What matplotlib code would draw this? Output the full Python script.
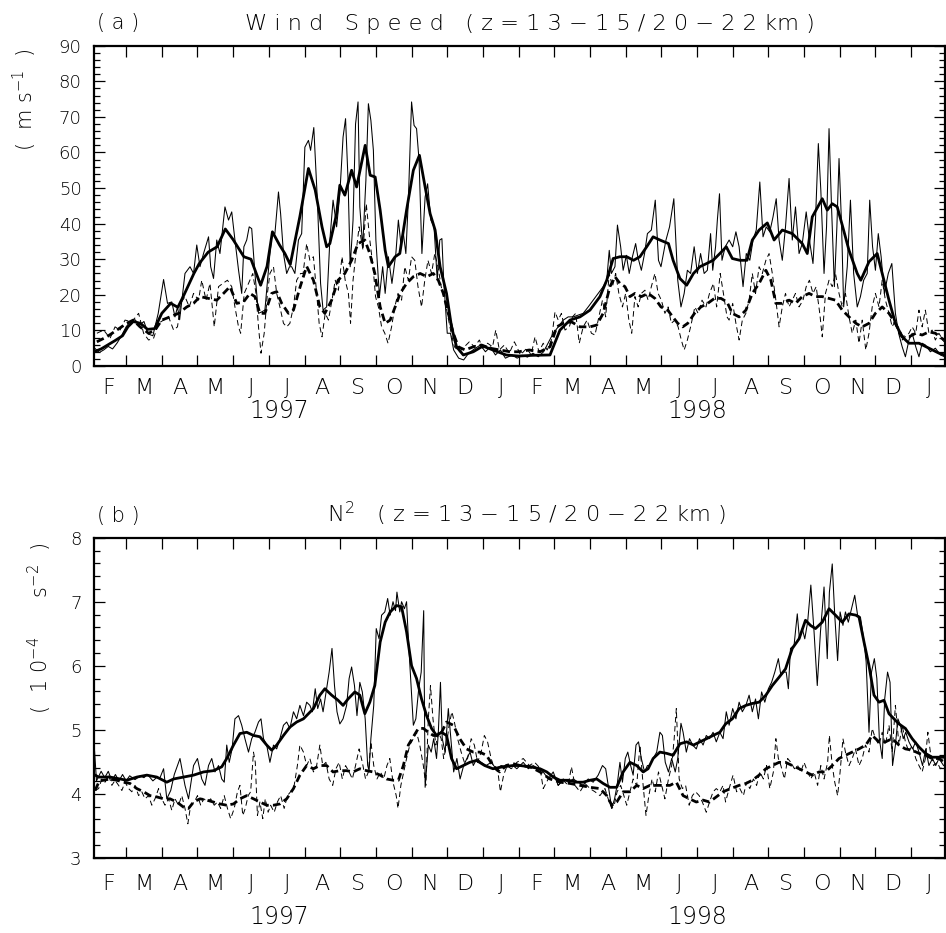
import matplotlib
matplotlib.use("Agg")
import matplotlib.pyplot as plt
from matplotlib.ticker import MultipleLocator, FixedLocator, NullFormatter
from matplotlib.transforms import blended_transform_factory

plt.rcParams['font.family'] = ['DejaVu Sans']
plt.rcParams['font.weight'] = 'light'
plt.rcParams['mathtext.fontset'] = 'dejavusans'
plt.rcParams['lines.scale_dashes'] = False

# Time axis in months since 1 Jan 1997 (2 = 1 Mar 1997, 24 = 1 Jan 1999)
month_letters = list("FMAMJJASONDJFMAMJJASONDJ")
month_centers = [m + 0.5 for m in range(1, 25)]
month_edges = list(range(2, 25))
year_labels = ["1997", "1998"]
year_centers = [6.3, 18.0]

# ---- (a) wind speed, m/s : (month, value) ----
# upper layer (20-22 km), daily
ws_hi = [(1.12, 5.0), (1.25, 3.8), (1.37, 4.5), (1.5, 5.5), (1.62, 4.8), (1.75, 6.5), (1.87, 8.5),
         (2.0, 11.0), (2.12, 12.5), (2.25, 13.0), (2.37, 11.5), (2.5, 12.5), (2.62, 9.0), (2.75, 8.5),
         (2.9, 14.8), (3.05, 24.3), (3.16, 17.6), (3.28, 18.0), (3.37, 13.8), (3.44, 16.6), (3.5, 13.0),
         (3.65, 26.0), (3.79, 27.9), (3.89, 26.0), (3.98, 34.0), (4.07, 27.9), (4.17, 31.6), (4.31, 36.3),
         (4.37, 27.9), (4.45, 24.6), (4.54, 35.4), (4.63, 31.6), (4.77, 44.7), (4.87, 41.0), (4.96, 43.3),
         (5.05, 35.4), (5.15, 27.0), (5.24, 20.4), (5.3, 33.5), (5.38, 35.4), (5.45, 39.1), (5.52, 38.6),
         (5.61, 26.0), (5.71, 14.8), (5.8, 15.2), (5.89, 15.7), (6.03, 31.6), (6.1, 37.7), (6.17, 37.2),
         (6.27, 48.9), (6.33, 42.8), (6.41, 31.6), (6.5, 26.0), (6.58, 27.9), (6.64, 27.9), (6.73, 26.0),
         (6.83, 35.4), (6.92, 37.2), (7.01, 61.5), (7.11, 63.4), (7.17, 60.6), (7.26, 67.0), (7.36, 46.6),
         (7.45, 23.2), (7.52, 15.7), (7.62, 16.6), (7.71, 35.4), (7.8, 46.6), (7.9, 39.1), (7.99, 48.4),
         (8.08, 64.3), (8.15, 69.5), (8.22, 52.2), (8.28, 27.9), (8.36, 41.0), (8.43, 68.0), (8.5, 74.2),
         (8.55, 44.7), (8.63, 33.5), (8.72, 52.2), (8.79, 73.7), (8.86, 69.0), (8.93, 60.6), (9.0, 35.4),
         (9.1, 19.5), (9.19, 27.9), (9.26, 20.4), (9.35, 30.7), (9.45, 23.2), (9.56, 31.6), (9.63, 41.0),
         (9.7, 34.4), (9.77, 37.2), (9.84, 31.6), (9.91, 46.6), (10.0, 74.2), (10.07, 67.6), (10.14, 66.7),
         (10.21, 57.8), (10.29, 31.6), (10.38, 47.5), (10.45, 51.2), (10.54, 41.0), (10.63, 39.1),
         (10.72, 24.1), (10.79, 35.4), (10.85, 35.8), (10.9, 24.1), (11.0, 9.2), (11.09, 9.2), (11.18, 4.5),
         (11.32, 2.2), (11.46, 1.7), (11.6, 3.6), (11.79, 5.0), (11.93, 5.9), (12.07, 4.0), (12.21, 5.4),
         (12.35, 3.1), (12.49, 4.5), (12.63, 2.2), (12.82, 3.1), (12.96, 2.2), (13.1, 3.0), (13.25, 2.5),
         (13.4, 3.6), (13.55, 2.6), (13.7, 4.0), (13.97, 9.2), (14.11, 11.0), (14.25, 12.9), (14.39, 13.8),
         (14.53, 13.8), (14.67, 14.3), (14.81, 14.8), (14.95, 16.6), (15.09, 18.5), (15.23, 20.4),
         (15.37, 22.3), (15.47, 24.1), (15.54, 32.5), (15.6, 26.0), (15.7, 27.9), (15.77, 39.6),
         (15.86, 33.5), (15.93, 26.9), (16.02, 31.1), (16.1, 26.0), (16.19, 30.7), (16.28, 34.4),
         (16.34, 30.7), (16.44, 26.9), (16.53, 31.6), (16.61, 37.2), (16.72, 38.2), (16.83, 46.6),
         (16.92, 29.7), (16.99, 27.9), (17.13, 35.4), (17.23, 39.1), (17.35, 47.0), (17.46, 24.1),
         (17.55, 16.6), (17.64, 20.4), (17.73, 26.9), (17.82, 26.0), (17.92, 33.5), (18.01, 26.0),
         (18.1, 31.6), (18.2, 26.0), (18.29, 26.9), (18.38, 37.2), (18.44, 26.9), (18.52, 33.5),
         (18.57, 41.0), (18.63, 48.4), (18.7, 29.7), (18.79, 33.5), (18.9, 35.4), (19.0, 33.5),
         (19.09, 37.7), (19.18, 33.5), (19.29, 22.3), (19.38, 31.6), (19.48, 29.7), (19.57, 35.4),
         (19.66, 38.2), (19.76, 51.7), (19.85, 36.3), (19.94, 39.1), (20.04, 37.7), (20.13, 41.9),
         (20.22, 47.0), (20.3, 35.4), (20.39, 29.7), (20.48, 39.1), (20.58, 52.7), (20.67, 35.4),
         (20.76, 44.7), (20.86, 31.6), (20.95, 34.4), (21.06, 43.3), (21.15, 35.4), (21.25, 28.8),
         (21.32, 41.0), (21.4, 62.5), (21.47, 49.4), (21.56, 26.0), (21.63, 39.1), (21.7, 66.7),
         (21.77, 44.7), (21.85, 22.3), (21.92, 39.1), (21.98, 58.3), (22.05, 40.0), (22.11, 16.6),
         (22.21, 27.9), (22.3, 46.6), (22.39, 26.0), (22.49, 16.6), (22.58, 19.5), (22.67, 24.1),
         (22.77, 26.0), (22.84, 46.6), (22.92, 33.5), (23.0, 26.9), (23.08, 37.2), (23.16, 30.7),
         (23.25, 20.4), (23.36, 26.0), (23.46, 28.8), (23.56, 14.8), (23.65, 9.2), (23.75, 5.4),
         (23.84, 2.6), (23.94, 7.3), (24.03, 9.2), (24.13, 5.4), (24.22, 2.6), (24.31, 6.4), (24.4, 5.9),
         (24.54, 4.0), (24.68, 5.0), (24.82, 3.1), (24.94, 2.6)]

# upper layer, running mean
ws_hi_mean = [(1.1, 4.0), (1.3, 4.8), (1.5, 6.0), (1.7, 7.2), (1.9, 8.5), (2.05, 11.0), (2.2, 12.5),
              (2.4, 12.0), (2.6, 10.3), (2.8, 10.5), (3.0, 14.8), (3.25, 17.6), (3.45, 16.5), (3.6, 19.5),
              (3.9, 26.0), (4.05, 28.8), (4.3, 32.0), (4.55, 33.5), (4.78, 38.5), (5.0, 35.5), (5.3, 30.7),
              (5.5, 30.0), (5.77, 22.7), (5.95, 28.0), (6.1, 37.7), (6.3, 34.0), (6.45, 31.6), (6.6, 28.5),
              (6.87, 42.0), (7.11, 55.5), (7.3, 49.4), (7.49, 39.1), (7.62, 33.5), (7.71, 34.4),
              (7.9, 42.8), (7.99, 50.8), (8.13, 48.0), (8.32, 55.0), (8.46, 50.3), (8.7, 62.0),
              (8.84, 53.6), (8.98, 53.1), (9.12, 43.8), (9.26, 32.5), (9.35, 27.9), (9.54, 30.7),
              (9.67, 31.6), (9.86, 43.8), (10.05, 55.0), (10.22, 59.2), (10.38, 50.3), (10.52, 42.8),
              (10.66, 38.2), (10.8, 27.9), (10.98, 20.4), (11.12, 11.0), (11.26, 5.4), (11.45, 3.1),
              (11.73, 4.0), (12.0, 5.6), (12.28, 4.5), (12.65, 3.1), (13.0, 2.8), (13.4, 3.0), (13.88, 3.1),
              (14.16, 10.1), (14.44, 12.9), (14.72, 13.8), (15.0, 15.7), (15.28, 19.5), (15.47, 24.1),
              (15.65, 30.2), (15.84, 30.7), (16.03, 30.7), (16.22, 29.7), (16.4, 30.7), (16.59, 33.5),
              (16.77, 36.3), (16.96, 35.4), (17.2, 34.4), (17.33, 29.7), (17.52, 24.6), (17.71, 22.7),
              (17.9, 26.0), (18.08, 27.9), (18.27, 28.8), (18.45, 29.7), (18.64, 31.6), (18.82, 33.5),
              (18.99, 30.2), (19.2, 29.7), (19.4, 29.7), (19.55, 35.4), (19.74, 38.2), (19.97, 40.2),
              (20.16, 35.4), (20.39, 38.2), (20.67, 37.2), (20.95, 34.4), (21.09, 31.6), (21.23, 41.9),
              (21.51, 47.0), (21.65, 43.8), (21.79, 45.6), (21.93, 44.7), (22.07, 39.6), (22.26, 32.5),
              (22.49, 26.0), (22.59, 24.1), (22.82, 29.3), (23.05, 31.6), (23.19, 26.0), (23.38, 18.5),
              (23.56, 12.0), (23.75, 8.2), (23.94, 6.4), (24.22, 6.4), (24.5, 5.0), (24.78, 3.6),
              (24.94, 3.1)]

# lower layer (13-15 km), daily
ws_lo = [(1.18, 9.2), (1.37, 10.1), (1.55, 7.8), (1.69, 11.0), (1.83, 10.1), (1.97, 12.9), (2.16, 12.4),
         (2.35, 14.8), (2.49, 9.2), (2.63, 7.3), (2.77, 7.8), (2.91, 12.0), (3.05, 12.9), (3.19, 13.8),
         (3.33, 10.1), (3.44, 11.0), (3.53, 17.6), (3.65, 19.5), (3.77, 16.6), (3.89, 20.4), (4.03, 18.5),
         (4.12, 24.1), (4.24, 18.5), (4.35, 23.2), (4.47, 11.0), (4.59, 22.3), (4.71, 23.2), (4.84, 24.1),
         (4.96, 22.3), (5.05, 16.6), (5.15, 11.0), (5.21, 9.2), (5.31, 20.4), (5.43, 23.2), (5.55, 26.0),
         (5.64, 20.4), (5.71, 11.0), (5.78, 3.6), (5.87, 9.2), (5.96, 20.4), (6.03, 26.0), (6.13, 27.9),
         (6.22, 20.4), (6.31, 16.6), (6.41, 12.0), (6.5, 11.0), (6.59, 12.0), (6.69, 16.6), (6.78, 24.1),
         (6.89, 26.0), (6.96, 26.0), (7.06, 34.4), (7.15, 29.7), (7.25, 30.7), (7.34, 20.4), (7.41, 12.0),
         (7.49, 8.2), (7.58, 14.8), (7.67, 12.9), (7.77, 18.5), (7.86, 24.1), (7.95, 21.3), (8.05, 30.7),
         (8.14, 24.1), (8.23, 20.4), (8.29, 12.0), (8.36, 24.1), (8.44, 31.6), (8.53, 39.1), (8.64, 32.5),
         (8.73, 45.6), (8.83, 35.4), (8.92, 27.9), (8.99, 19.5), (9.07, 16.6), (9.16, 11.0), (9.25, 9.2),
         (9.34, 6.4), (9.44, 11.0), (9.53, 16.6), (9.62, 20.4), (9.72, 18.5), (9.81, 27.9), (9.91, 24.1),
         (10.0, 30.7), (10.09, 29.7), (10.18, 22.3), (10.28, 16.6), (10.37, 24.1), (10.46, 29.7),
         (10.56, 26.0), (10.65, 31.6), (10.74, 27.9), (10.83, 22.3), (10.93, 18.5), (11.02, 13.8),
         (11.11, 9.2), (11.2, 5.4), (11.34, 4.0), (11.48, 5.4), (11.62, 6.8), (11.76, 5.4), (11.9, 7.3),
         (11.99, 5.0), (12.13, 6.4), (12.27, 5.4), (12.36, 10.1), (12.46, 4.5), (12.6, 5.9), (12.74, 3.6),
         (12.88, 6.8), (12.95, 5.4), (13.05, 3.1), (13.23, 5.0), (13.35, 3.1), (13.46, 8.2), (13.57, 4.0),
         (13.69, 6.4), (13.8, 4.5), (13.92, 7.3), (14.02, 15.2), (14.11, 12.9), (14.2, 14.8), (14.3, 10.1),
         (14.42, 11.0), (14.51, 13.8), (14.6, 14.8), (14.7, 6.4), (14.81, 11.0), (14.92, 12.9),
         (15.04, 9.2), (15.14, 8.7), (15.23, 12.9), (15.35, 18.5), (15.44, 13.8), (15.54, 26.0),
         (15.63, 22.3), (15.72, 26.0), (15.81, 20.4), (15.91, 16.6), (16.0, 20.4), (16.09, 12.9),
         (16.17, 9.2), (16.26, 19.5), (16.35, 16.6), (16.44, 20.4), (16.54, 21.3), (16.63, 18.5),
         (16.72, 22.3), (16.82, 26.0), (16.91, 20.4), (17.0, 18.5), (17.1, 14.8), (17.19, 16.6),
         (17.28, 12.0), (17.38, 12.9), (17.47, 11.0), (17.56, 7.3), (17.64, 4.5), (17.73, 7.3),
         (17.82, 11.0), (17.94, 16.6), (18.03, 14.8), (18.14, 18.5), (18.25, 16.6), (18.35, 20.4),
         (18.46, 23.2), (18.55, 16.6), (18.65, 26.0), (18.74, 20.4), (18.84, 13.8), (18.9, 12.9),
         (19.0, 17.6), (19.09, 12.0), (19.18, 7.3), (19.27, 12.9), (19.37, 14.8), (19.46, 18.5),
         (19.55, 26.0), (19.64, 20.4), (19.74, 27.9), (19.83, 26.0), (19.93, 29.7), (20.02, 31.6),
         (20.11, 26.0), (20.21, 18.5), (20.3, 11.0), (20.39, 16.6), (20.48, 20.4), (20.58, 16.6),
         (20.67, 18.5), (20.76, 20.4), (20.86, 16.6), (20.97, 18.5), (21.06, 22.3), (21.15, 24.1),
         (21.25, 20.4), (21.34, 22.3), (21.44, 14.8), (21.51, 8.2), (21.6, 20.4), (21.7, 24.1),
         (21.79, 22.3), (21.88, 26.0), (21.98, 20.4), (22.07, 16.6), (22.16, 20.4), (22.26, 13.8),
         (22.35, 9.2), (22.45, 12.9), (22.54, 6.4), (22.63, 12.9), (22.73, 4.5), (22.82, 9.2),
         (22.91, 16.6), (23.0, 20.4), (23.1, 16.6), (23.19, 24.1), (23.28, 18.5), (23.38, 14.8),
         (23.47, 11.0), (23.56, 12.9), (23.66, 9.2), (23.75, 7.3), (23.84, 8.2), (23.94, 9.2),
         (24.03, 11.0), (24.13, 9.2), (24.22, 15.7), (24.31, 11.0), (24.4, 15.7), (24.5, 9.2),
         (24.59, 10.1), (24.68, 7.3), (24.78, 9.2), (24.92, 6.8)]

# lower layer, running mean
ws_lo_mean = [(1.18, 6.8), (1.46, 8.2), (1.74, 10.1), (2.02, 12.0), (2.2, 12.9), (2.39, 11.0), (2.63, 9.2),
              (2.81, 10.1), (3.0, 12.9), (3.23, 13.8), (3.47, 14.8), (3.7, 16.6), (3.89, 17.6), (4.07, 19.5),
              (4.31, 19.0), (4.54, 18.5), (4.73, 20.4), (4.91, 22.3), (5.1, 17.6), (5.29, 18.0), (5.47, 20.4),
              (5.61, 19.5), (5.75, 14.8), (5.89, 14.8), (6.08, 20.4), (6.22, 20.9), (6.36, 17.6),
              (6.55, 14.8), (6.69, 15.7), (6.87, 22.0), (7.06, 28.0), (7.25, 24.1), (7.43, 16.6),
              (7.57, 14.8), (7.76, 18.5), (7.94, 24.1), (8.13, 26.0), (8.32, 29.7), (8.5, 34.4),
              (8.69, 35.4), (8.83, 31.6), (8.97, 26.0), (9.12, 16.6), (9.26, 12.0), (9.4, 12.9),
              (9.54, 16.6), (9.68, 20.4), (9.86, 23.2), (10.05, 25.1), (10.24, 26.0), (10.43, 25.1),
              (10.61, 26.0), (10.75, 24.1), (10.89, 20.4), (11.03, 14.8), (11.17, 9.2), (11.31, 5.4),
              (11.5, 4.5), (11.73, 5.4), (11.96, 5.9), (12.2, 5.0), (12.48, 4.5), (12.76, 4.0), (13.0, 4.0),
              (13.3, 4.5), (13.6, 4.0), (13.88, 5.4), (14.07, 11.0), (14.25, 12.0), (14.48, 12.4),
              (14.72, 11.0), (15.0, 11.0), (15.19, 11.5), (15.37, 14.8), (15.56, 22.3), (15.7, 25.1),
              (15.84, 23.2), (15.98, 22.3), (16.12, 19.5), (16.26, 20.4), (16.44, 19.5), (16.63, 20.4),
              (16.82, 19.0), (16.99, 16.6), (17.18, 15.7), (17.32, 13.8), (17.46, 12.0), (17.6, 11.0),
              (17.74, 12.0), (17.93, 14.8), (18.11, 16.6), (18.3, 17.6), (18.49, 19.0), (18.67, 19.0),
              (18.84, 18.0), (18.99, 14.8), (19.18, 13.8), (19.37, 15.7), (19.55, 20.4), (19.74, 23.2),
              (19.93, 26.9), (20.07, 24.1), (20.21, 17.6), (20.39, 17.6), (20.58, 18.5), (20.76, 17.6),
              (20.95, 19.5), (21.14, 20.4), (21.32, 19.5), (21.51, 19.5), (21.7, 19.0), (21.88, 18.5),
              (22.07, 15.7), (22.26, 13.8), (22.45, 12.0), (22.63, 11.0), (22.82, 12.0), (23.0, 14.8),
              (23.19, 16.6), (23.38, 14.8), (23.56, 12.0), (23.75, 8.2), (23.94, 8.2), (24.13, 9.2),
              (24.31, 8.7), (24.5, 9.6), (24.68, 9.2), (24.92, 7.3)]

# ---- (b) N^2, 1e-4 s^-2 : (month, value) ----
n2_hi = [(1.1, 4.8), (1.17, 4.2), (1.3, 4.35), (1.4, 4.25), (1.5, 4.35), (1.6, 4.2), (1.7, 4.3), (1.8, 4.2),
         (1.9, 4.3), (2.0, 4.2), (2.1, 4.28), (2.25, 4.22), (2.4, 4.28), (2.5, 4.25), (2.6, 4.3),
         (2.75, 4.2), (2.85, 4.25), (2.95, 4.25), (3.05, 4.39), (3.14, 3.92), (3.25, 4.05), (3.35, 4.3),
         (3.51, 4.55), (3.65, 4.13), (3.75, 3.92), (3.89, 4.44), (4.0, 4.55), (4.12, 4.23), (4.21, 4.13),
         (4.31, 4.44), (4.4, 4.55), (4.49, 4.34), (4.59, 4.44), (4.68, 4.23), (4.75, 4.18), (4.82, 4.76),
         (4.89, 4.49), (4.97, 4.7), (5.05, 5.17), (5.15, 5.22), (5.24, 5.07), (5.33, 4.86), (5.43, 4.65),
         (5.52, 4.86), (5.61, 4.96), (5.71, 5.12), (5.78, 5.17), (5.85, 4.86), (5.94, 4.76), (6.03, 4.49),
         (6.13, 4.76), (6.22, 4.7), (6.31, 4.86), (6.41, 5.07), (6.5, 5.12), (6.59, 5.02), (6.69, 5.28),
         (6.78, 5.17), (6.87, 5.38), (6.97, 5.22), (7.06, 5.43), (7.15, 5.38), (7.22, 5.28), (7.3, 5.64),
         (7.37, 5.33), (7.45, 5.48), (7.52, 5.28), (7.62, 5.64), (7.69, 5.9), (7.77, 6.27), (7.84, 5.69),
         (7.91, 5.28), (7.99, 5.09), (8.08, 5.17), (8.18, 5.38), (8.25, 5.8), (8.32, 5.98), (8.4, 5.69),
         (8.47, 5.22), (8.55, 5.74), (8.62, 5.59), (8.7, 5.17), (8.77, 4.44), (8.81, 4.36), (8.86, 4.86),
         (8.94, 5.38), (9.01, 6.58), (9.09, 6.42), (9.16, 6.79), (9.25, 6.84), (9.33, 7.05), (9.4, 6.79),
         (9.48, 7.0), (9.55, 6.86), (9.59, 7.15), (9.67, 6.84), (9.72, 7.0), (9.8, 6.89), (9.86, 7.0),
         (9.91, 6.42), (9.99, 5.64), (10.05, 5.07), (10.12, 5.17), (10.2, 5.64), (10.27, 5.9),
         (10.34, 6.86), (10.38, 4.1), (10.47, 4.76), (10.55, 4.65), (10.62, 4.86), (10.7, 4.55),
         (10.75, 4.96), (10.81, 5.74), (10.86, 4.86), (10.94, 4.65), (11.03, 5.33), (11.1, 4.86),
         (11.18, 4.34), (11.27, 4.55), (11.36, 4.23), (11.46, 4.44), (11.55, 4.55), (11.64, 4.65),
         (11.73, 4.44), (11.83, 4.55), (11.95, 4.49), (12.09, 4.44), (12.23, 4.49), (12.37, 4.39),
         (12.51, 4.44), (12.65, 4.42), (12.84, 4.44), (12.95, 4.39), (13.13, 4.49), (13.27, 4.39),
         (13.41, 4.44), (13.55, 4.39), (13.69, 4.34), (13.83, 4.23), (13.97, 4.34), (14.11, 4.13),
         (14.25, 4.23), (14.39, 4.18), (14.53, 4.23), (14.67, 4.18), (14.81, 4.13), (14.95, 4.23),
         (15.09, 4.18), (15.23, 4.29), (15.35, 4.44), (15.44, 4.39), (15.54, 4.03), (15.61, 3.77),
         (15.69, 3.92), (15.76, 4.13), (15.84, 4.49), (15.91, 4.18), (15.99, 4.55), (16.06, 4.65),
         (16.14, 4.44), (16.21, 4.29), (16.29, 4.76), (16.36, 4.81), (16.44, 4.55), (16.53, 4.34),
         (16.61, 4.44), (16.68, 4.44), (16.77, 4.55), (16.87, 4.65), (16.96, 4.96), (17.03, 4.91),
         (17.11, 4.49), (17.2, 4.34), (17.29, 4.55), (17.39, 4.34), (17.46, 4.55), (17.55, 5.1),
         (17.61, 4.96), (17.7, 4.65), (17.79, 4.86), (17.88, 4.76), (17.98, 4.7), (18.07, 4.86),
         (18.17, 4.76), (18.26, 4.91), (18.35, 4.86), (18.45, 4.96), (18.54, 4.81), (18.64, 4.96),
         (18.73, 4.86), (18.82, 5.28), (18.9, 5.07), (19.0, 5.33), (19.09, 5.17), (19.18, 5.43),
         (19.27, 5.28), (19.37, 5.38), (19.46, 5.54), (19.55, 5.28), (19.64, 5.48), (19.72, 5.17),
         (19.81, 5.59), (19.9, 5.43), (20.0, 5.64), (20.09, 5.74), (20.18, 5.9), (20.28, 6.11),
         (20.35, 5.85), (20.43, 5.9), (20.5, 5.9), (20.56, 5.64), (20.62, 6.27), (20.72, 6.32),
         (20.81, 6.81), (20.87, 6.42), (20.95, 6.58), (21.02, 6.42), (21.1, 6.68), (21.19, 7.26),
         (21.28, 6.53), (21.37, 5.69), (21.46, 6.53), (21.56, 7.23), (21.65, 6.11), (21.71, 7.15),
         (21.79, 7.59), (21.86, 6.79), (21.94, 6.08), (22.01, 6.84), (22.09, 6.63), (22.16, 6.84),
         (22.24, 6.68), (22.33, 6.89), (22.42, 7.1), (22.5, 6.79), (22.58, 6.76), (22.67, 6.42),
         (22.74, 6.06), (22.82, 4.96), (22.89, 5.9), (22.97, 6.11), (23.04, 5.8), (23.11, 4.86),
         (23.19, 4.55), (23.26, 5.48), (23.34, 5.9), (23.41, 5.74), (23.48, 4.44), (23.56, 4.76),
         (23.63, 5.17), (23.7, 5.07), (23.78, 4.86), (23.85, 4.96), (23.94, 4.81), (24.04, 4.7),
         (24.13, 4.81), (24.22, 4.65), (24.32, 4.44), (24.41, 4.7), (24.5, 4.44), (24.6, 4.55),
         (24.69, 4.44), (24.78, 4.55), (24.91, 4.44)]

n2_hi_mean = [(1.1, 4.3), (1.23, 4.26), (1.55, 4.26), (1.83, 4.23), (2.02, 4.21), (2.3, 4.26), (2.58, 4.29),
              (2.86, 4.26), (3.14, 4.18), (3.33, 4.23), (3.61, 4.26), (3.89, 4.29), (4.17, 4.34),
              (4.45, 4.36), (4.68, 4.42), (4.82, 4.55), (5.01, 4.76), (5.19, 4.94), (5.38, 4.96),
              (5.57, 4.91), (5.75, 4.89), (5.94, 4.76), (6.08, 4.68), (6.22, 4.76), (6.41, 4.91),
              (6.59, 5.04), (6.78, 5.12), (6.97, 5.17), (7.11, 5.25), (7.25, 5.33), (7.43, 5.54),
              (7.57, 5.64), (7.76, 5.54), (7.94, 5.46), (8.08, 5.38), (8.22, 5.48), (8.41, 5.59),
              (8.55, 5.54), (8.69, 5.25), (8.83, 5.43), (8.97, 5.69), (9.12, 6.37), (9.26, 6.68),
              (9.4, 6.84), (9.58, 6.94), (9.72, 6.92), (9.86, 6.53), (10.0, 6.0), (10.14, 5.8),
              (10.28, 5.48), (10.42, 5.22), (10.56, 5.02), (10.7, 4.91), (10.84, 4.96), (10.98, 4.91),
              (11.12, 4.55), (11.26, 4.39), (11.45, 4.44), (11.63, 4.49), (11.82, 4.52), (12.05, 4.44),
              (12.28, 4.39), (12.56, 4.42), (12.84, 4.44), (13.04, 4.44), (13.32, 4.42), (13.6, 4.39),
              (13.79, 4.34), (13.97, 4.26), (14.16, 4.21), (14.39, 4.21), (14.63, 4.18), (14.81, 4.18),
              (15.0, 4.21), (15.19, 4.23), (15.37, 4.16), (15.56, 4.1), (15.75, 4.1), (15.93, 4.34),
              (16.12, 4.49), (16.31, 4.44), (16.49, 4.34), (16.63, 4.39), (16.77, 4.55), (16.96, 4.65),
              (17.15, 4.63), (17.33, 4.6), (17.52, 4.78), (17.71, 4.81), (17.9, 4.76), (18.08, 4.81),
              (18.27, 4.86), (18.45, 4.91), (18.64, 4.96), (18.8, 5.09), (18.99, 5.17), (19.18, 5.33),
              (19.37, 5.38), (19.55, 5.41), (19.74, 5.43), (19.93, 5.54), (20.11, 5.69), (20.3, 5.82),
              (20.48, 5.95), (20.67, 6.27), (20.86, 6.42), (21.04, 6.71), (21.18, 6.63), (21.32, 6.58),
              (21.51, 6.68), (21.7, 6.89), (21.88, 6.79), (22.07, 6.68), (22.26, 6.81), (22.45, 6.79),
              (22.54, 6.76), (22.68, 6.37), (22.82, 6.0), (22.96, 5.54), (23.1, 5.43), (23.24, 5.46),
              (23.38, 5.25), (23.52, 5.17), (23.66, 5.09), (23.84, 5.02), (24.03, 4.86), (24.22, 4.73),
              (24.4, 4.63), (24.59, 4.57), (24.78, 4.57), (24.94, 4.57)]

n2_lo = [(1.13, 4.05), (1.23, 4.08), (1.32, 4.23), (1.41, 4.18), (1.51, 4.29), (1.6, 4.13), (1.69, 4.21),
         (1.79, 4.13), (1.88, 4.05), (1.97, 4.18), (2.07, 4.08), (2.16, 4.03), (2.25, 4.13), (2.35, 3.97),
         (2.44, 4.03), (2.53, 3.92), (2.63, 3.97), (2.72, 3.82), (2.81, 3.92), (2.91, 4.08), (3.0, 3.92),
         (3.09, 3.82), (3.19, 3.92), (3.28, 3.74), (3.37, 3.92), (3.47, 3.82), (3.56, 3.97), (3.65, 3.77),
         (3.73, 3.53), (3.81, 3.82), (3.91, 3.87), (4.0, 3.97), (4.09, 3.82), (4.18, 3.92), (4.28, 3.87),
         (4.37, 3.92), (4.47, 3.82), (4.56, 3.87), (4.65, 3.77), (4.75, 3.97), (4.84, 3.77), (4.93, 3.61),
         (5.03, 3.77), (5.12, 4.03), (5.19, 4.13), (5.27, 3.66), (5.34, 3.77), (5.42, 3.97), (5.49, 4.03),
         (5.57, 4.65), (5.62, 4.49), (5.68, 3.66), (5.75, 3.87), (5.83, 3.61), (5.9, 3.92), (5.98, 3.71),
         (6.05, 3.82), (6.15, 3.71), (6.24, 3.87), (6.33, 3.97), (6.43, 3.77), (6.52, 3.97), (6.61, 4.03),
         (6.71, 4.13), (6.8, 4.44), (6.87, 4.76), (6.97, 4.65), (7.06, 4.44), (7.15, 4.55), (7.25, 4.34),
         (7.34, 4.44), (7.43, 4.76), (7.51, 4.44), (7.6, 4.49), (7.69, 4.23), (7.79, 4.13), (7.88, 4.39),
         (7.97, 4.49), (8.06, 4.23), (8.15, 4.44), (8.25, 4.34), (8.34, 4.23), (8.43, 4.44), (8.53, 4.7),
         (8.62, 4.49), (8.71, 4.23), (8.79, 4.34), (8.86, 4.81), (8.94, 4.44), (9.03, 4.23), (9.13, 4.34),
         (9.22, 4.23), (9.31, 4.44), (9.39, 4.55), (9.48, 4.18), (9.57, 3.97), (9.62, 3.77), (9.7, 4.13),
         (9.78, 4.34), (9.86, 4.55), (9.95, 4.76), (10.05, 4.86), (10.14, 4.96), (10.23, 4.76),
         (10.33, 4.44), (10.4, 4.13), (10.47, 5.17), (10.53, 5.69), (10.6, 5.17), (10.68, 4.76),
         (10.75, 4.96), (10.83, 4.86), (10.9, 4.55), (10.98, 4.76), (11.05, 5.07), (11.13, 5.28),
         (11.2, 5.12), (11.29, 4.86), (11.39, 4.65), (11.48, 4.49), (11.57, 4.55), (11.67, 4.86),
         (11.76, 4.76), (11.85, 4.49), (11.95, 4.65), (12.04, 4.91), (12.13, 4.81), (12.23, 4.55),
         (12.32, 4.39), (12.42, 4.34), (12.49, 4.03), (12.58, 4.29), (12.68, 4.44), (12.79, 4.39),
         (12.9, 4.44), (12.95, 4.49), (13.13, 4.55), (13.3, 4.44), (13.45, 4.49), (13.6, 4.4),
         (13.69, 4.08), (13.83, 4.23), (13.97, 4.29), (14.11, 4.13), (14.25, 4.21), (14.39, 4.13),
         (14.48, 4.42), (14.58, 4.13), (14.72, 4.03), (14.86, 4.16), (15.0, 4.08), (15.14, 4.03),
         (15.28, 3.97), (15.42, 4.08), (15.51, 3.92), (15.61, 3.77), (15.68, 3.82), (15.76, 4.03),
         (15.86, 4.13), (15.95, 3.97), (16.03, 3.82), (16.12, 4.03), (16.21, 4.23), (16.31, 4.13),
         (16.4, 4.76), (16.49, 4.13), (16.57, 3.66), (16.65, 3.97), (16.74, 4.23), (16.83, 4.03),
         (16.92, 4.34), (17.01, 4.13), (17.1, 3.92), (17.2, 4.23), (17.29, 4.44), (17.36, 4.86),
         (17.42, 5.33), (17.5, 4.23), (17.59, 4.08), (17.68, 4.13), (17.78, 3.82), (17.87, 3.97),
         (17.96, 4.03), (18.06, 3.97), (18.15, 3.87), (18.26, 3.71), (18.35, 3.87), (18.45, 4.03),
         (18.54, 4.08), (18.64, 4.03), (18.73, 4.13), (18.8, 3.87), (18.9, 4.08), (19.01, 4.29),
         (19.11, 4.03), (19.2, 4.08), (19.3, 3.97), (19.39, 4.18), (19.48, 4.08), (19.58, 4.23),
         (19.67, 4.13), (19.76, 4.34), (19.86, 4.23), (19.95, 4.44), (20.04, 4.08), (20.14, 4.34),
         (20.21, 4.86), (20.28, 4.55), (20.35, 4.44), (20.45, 4.23), (20.54, 4.55), (20.63, 4.49),
         (20.73, 4.39), (20.82, 4.44), (20.91, 4.34), (21.0, 4.49), (21.1, 4.34), (21.19, 4.23),
         (21.28, 4.34), (21.38, 4.13), (21.47, 4.44), (21.56, 4.23), (21.66, 4.49), (21.71, 4.91),
         (21.79, 4.44), (21.86, 4.18), (21.94, 3.97), (22.01, 4.34), (22.09, 4.86), (22.16, 4.65),
         (22.26, 4.44), (22.35, 4.55), (22.44, 4.7), (22.54, 4.44), (22.63, 4.55), (22.72, 4.76),
         (22.82, 4.65), (22.91, 5.02), (23.0, 4.86), (23.1, 4.76), (23.19, 4.96), (23.28, 4.76),
         (23.38, 5.07), (23.47, 4.65), (23.56, 5.38), (23.66, 4.76), (23.75, 5.07), (23.84, 4.81),
         (23.94, 4.65), (24.03, 4.76), (24.13, 4.55), (24.22, 4.44), (24.31, 4.34), (24.4, 4.55),
         (24.47, 4.96), (24.54, 4.65), (24.63, 4.44), (24.73, 4.49), (24.82, 4.39), (24.91, 4.44)]

n2_lo_mean = [(1.13, 4.05), (1.25, 4.2), (1.37, 4.21), (1.55, 4.23), (1.74, 4.21), (1.93, 4.18), (2.11, 4.16),
              (2.3, 4.08), (2.49, 4.03), (2.67, 3.97), (2.86, 3.95), (3.05, 3.92), (3.23, 3.92), (3.42, 3.87),
              (3.61, 3.79), (3.75, 3.77), (3.89, 3.87), (4.07, 3.92), (4.26, 3.9), (4.45, 3.87), (4.63, 3.84),
              (4.82, 3.82), (5.01, 3.84), (5.19, 3.92), (5.38, 3.97), (5.57, 3.92), (5.75, 3.87),
              (5.94, 3.82), (6.13, 3.82), (6.31, 3.84), (6.5, 3.92), (6.69, 4.08), (6.87, 4.29),
              (7.06, 4.44), (7.25, 4.39), (7.43, 4.44), (7.62, 4.44), (7.8, 4.34), (7.99, 4.36),
              (8.18, 4.36), (8.36, 4.34), (8.55, 4.39), (8.74, 4.36), (8.92, 4.34), (9.12, 4.29),
              (9.3, 4.23), (9.49, 4.21), (9.63, 4.21), (9.77, 4.44), (9.91, 4.76), (10.05, 4.89),
              (10.19, 5.02), (10.33, 5.02), (10.47, 4.96), (10.61, 4.91), (10.8, 4.91), (10.98, 5.12),
              (11.17, 5.07), (11.35, 4.86), (11.54, 4.7), (11.73, 4.65), (11.91, 4.65), (12.1, 4.6),
              (12.28, 4.44), (12.47, 4.34), (12.65, 4.44), (12.84, 4.47), (13.04, 4.44), (13.32, 4.42),
              (13.6, 4.34), (13.88, 4.23), (14.16, 4.18), (14.44, 4.16), (14.72, 4.13), (15.0, 4.1),
              (15.28, 4.08), (15.47, 3.97), (15.61, 3.82), (15.75, 3.87), (15.93, 4.03), (16.12, 4.03),
              (16.31, 4.13), (16.49, 4.08), (16.68, 4.13), (16.87, 4.13), (17.05, 4.13), (17.24, 4.13),
              (17.42, 4.18), (17.61, 3.97), (17.79, 3.92), (17.98, 3.87), (18.17, 3.9), (18.35, 3.87),
              (18.54, 3.95), (18.73, 4.03), (18.9, 4.07), (19.18, 4.13), (19.37, 4.16), (19.55, 4.21),
              (19.74, 4.29), (19.93, 4.39), (20.11, 4.44), (20.3, 4.49), (20.48, 4.49), (20.67, 4.44),
              (20.86, 4.39), (21.04, 4.34), (21.23, 4.29), (21.42, 4.34), (21.6, 4.34), (21.79, 4.44),
              (21.98, 4.55), (22.16, 4.6), (22.35, 4.65), (22.54, 4.7), (22.73, 4.76), (22.91, 4.91),
              (23.1, 4.81), (23.28, 4.81), (23.47, 4.86), (23.66, 4.76), (23.84, 4.7), (24.03, 4.68),
              (24.22, 4.63), (24.4, 4.6), (24.59, 4.55), (24.78, 4.55), (24.94, 4.49)]


def unzip(pairs):
    return [p[0] for p in pairs], [p[1] for p in pairs]


def draw_panel(ax, hi, hi_mean, lo, lo_mean):
    ax.plot(*unzip(lo), color='black', lw=0.7, dashes=(4.0, 2.5))
    ax.plot(*unzip(hi), color='black', lw=0.75)
    ax.plot(*unzip(lo_mean), color='black', lw=2.0, dashes=(5.5, 3.0))
    ax.plot(*unzip(hi_mean), color='black', lw=2.0)


def style_axes(ax, month_pad):
    ax.set_xlim(1.1, 24.95)
    ax.xaxis.set_major_locator(FixedLocator(month_edges))
    ax.xaxis.set_major_formatter(NullFormatter())
    ax.xaxis.set_minor_locator(FixedLocator(month_centers))
    ax.set_xticklabels(month_letters, minor=True)
    ax.tick_params(axis='x', which='major', direction='in', length=8, width=0.9,
                   top=True, bottom=True)
    ax.tick_params(axis='x', which='minor', length=0, top=False, bottom=True,
                   labelsize=16, pad=month_pad)
    ax.tick_params(axis='y', which='major', direction='in', length=8, width=0.9,
                   left=True, right=True, labelsize=13, pad=9)
    ax.tick_params(axis='y', which='minor', direction='in', length=4, width=0.9,
                   left=True, right=True)
    for s in ax.spines.values():
        s.set_linewidth(1.6)


W, H = 946, 933
fig = plt.figure(figsize=(W / 100, H / 100), dpi=100)

ax_a = fig.add_axes([94 / W, 1 - 366 / H, 851 / W, 320.3 / H])
ax_b = fig.add_axes([94 / W, 1 - 857.7 / H, 851 / W, 320 / H])

draw_panel(ax_a, ws_hi, ws_hi_mean, ws_lo, ws_lo_mean)
draw_panel(ax_b, n2_hi, n2_hi_mean, n2_lo, n2_lo_mean)

style_axes(ax_a, 8.5)
ax_a.set_ylim(0, 90)
ax_a.yaxis.set_major_locator(MultipleLocator(10))
ax_a.yaxis.set_minor_locator(MultipleLocator(2))

style_axes(ax_b, 11.5)
ax_b.set_ylim(3, 8)
ax_b.yaxis.set_major_locator(MultipleLocator(1))
ax_b.yaxis.set_minor_locator(MultipleLocator(0.2))

# year captions under the month letters
for ax, yoff in ((ax_a, -0.103), (ax_b, -0.147)):
    tr = blended_transform_factory(ax.transData, ax.transAxes)
    for yr, xc in zip(year_labels, year_centers):
        ax.text(xc, yoff, yr, transform=tr, ha='center', va='top', fontsize=17)

# panel titles
fig.text(97 / W, 1 - 29.5 / H, "( a )", fontsize=15, ha='left', va='baseline')
fig.text(530 / W, 1 - 29.5 / H,
         "W i n d   S p e e d   ( z = 1 3 − 1 5 / 2 0 − 2 2 km )",
         fontsize=16.2, ha='center', va='baseline')
fig.text(97 / W, 1 - 521.7 / H, "( b )", fontsize=15, ha='left', va='baseline')
fig.text(527 / W, 1 - 521.7 / H,
         "N$^{2}$   ( z = 1 3 − 1 5 / 2 0 − 2 2 km )",
         fontsize=16.2, ha='center', va='baseline')

# y-axis units
fig.text(25 / W, 1 - 48 / H, "(  m s$^{-1}$  )", rotation=90, fontsize=15,
         ha='center', va='top')
fig.text(40 / W, 1 - 543 / H, "(  1 0$^{-4}$      s$^{-2}$  )", rotation=90, fontsize=15,
         ha='center', va='top')

fig.savefig("out.png", dpi=100)
